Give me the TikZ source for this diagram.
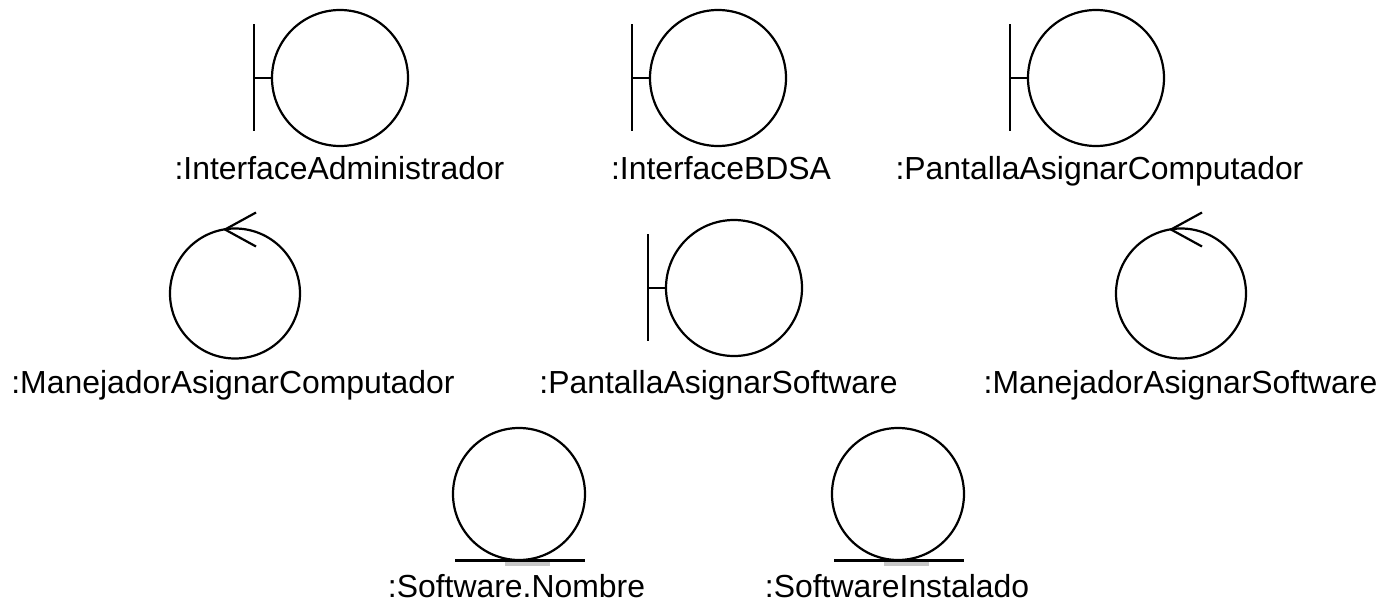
\documentclass[tikz,border=0pt]{standalone}
\usepackage{fontspec}
\setmainfont{Liberation Sans}
\tikzset{
  x=1pt,y=-1pt,
  symline/.style={draw=black,line width=2.2pt},
  thinline/.style={symline,line width=1.8pt},
  lbl/.style={inner sep=0pt,anchor=base,font=\fontsize{31.9}{35}\selectfont},
  circ/.style={symline,circle,inner sep=0pt,fill=none}
}
\newcommand{\bnd}[3]{% name, cx, cy
  \node[circ,minimum size=136pt] (#1) at (#2,#3) {};
  \coordinate (#1bar) at (#2-86,#3);
  \draw[thinline] (#2-86,#3-54) -- (#2-86,#3+53);
  \draw[thinline] (#1bar) -- (#1.west);
}
\newcommand{\ctl}[3]{%
  \node[circ,minimum size=130pt] (#1) at (#2,#3) {};
  \coordinate (#1tip) at (#2-10,#3-64);
  \coordinate (#1a) at (#2+21,#3-81);
  \coordinate (#1b) at (#2+21,#3-47);
  \draw[symline] (#1a) -- (#1tip) -- (#1b);
}
\newcommand{\ent}[3]{%
  \fill[black!22] (#2-14,#3+66) rectangle (#2+31,#3+72);
  \node[circ,minimum size=132pt] (#1) at (#2,#3) {};
  \coordinate (#1l) at (#2-64,#3+66.5);
  \coordinate (#1r) at (#2+66,#3+66.5);
  \draw[symline,line width=2.6pt] (#1l) -- (#1r);
}
\begin{document}
\begin{tikzpicture}
\useasboundingbox (0,0) rectangle (1398,605);
\bnd{a}{340}{78}
\bnd{b}{718}{78}
\bnd{c}{1096}{78}
\ctl{d}{235}{293.5}
\bnd{e}{734}{288}
\ctl{f}{1181}{293.5}
\ent{g}{519}{494}
\ent{h}{898}{494}
\node[lbl] (la) at (339.5,179) {:InterfaceAdministrador};
\node[lbl] (lb) at (721,179) {:InterfaceBDSA};
\node[lbl] (lc) at (1099.5,179) {:PantallaAsignarComputador};
\node[lbl] (ld) at (233,393) {:ManejadorAsignarComputador};
\node[lbl] (le) at (718.5,393) {:PantallaAsignarSoftware};
\node[lbl] (lf) at (1180.5,393) {:ManejadorAsignarSoftware};
\node[lbl] (lg) at (516.5,597) {:Software.Nombre};
\node[lbl] (lh) at (897,597) {:SoftwareInstalado};
\end{tikzpicture}
\end{document}
